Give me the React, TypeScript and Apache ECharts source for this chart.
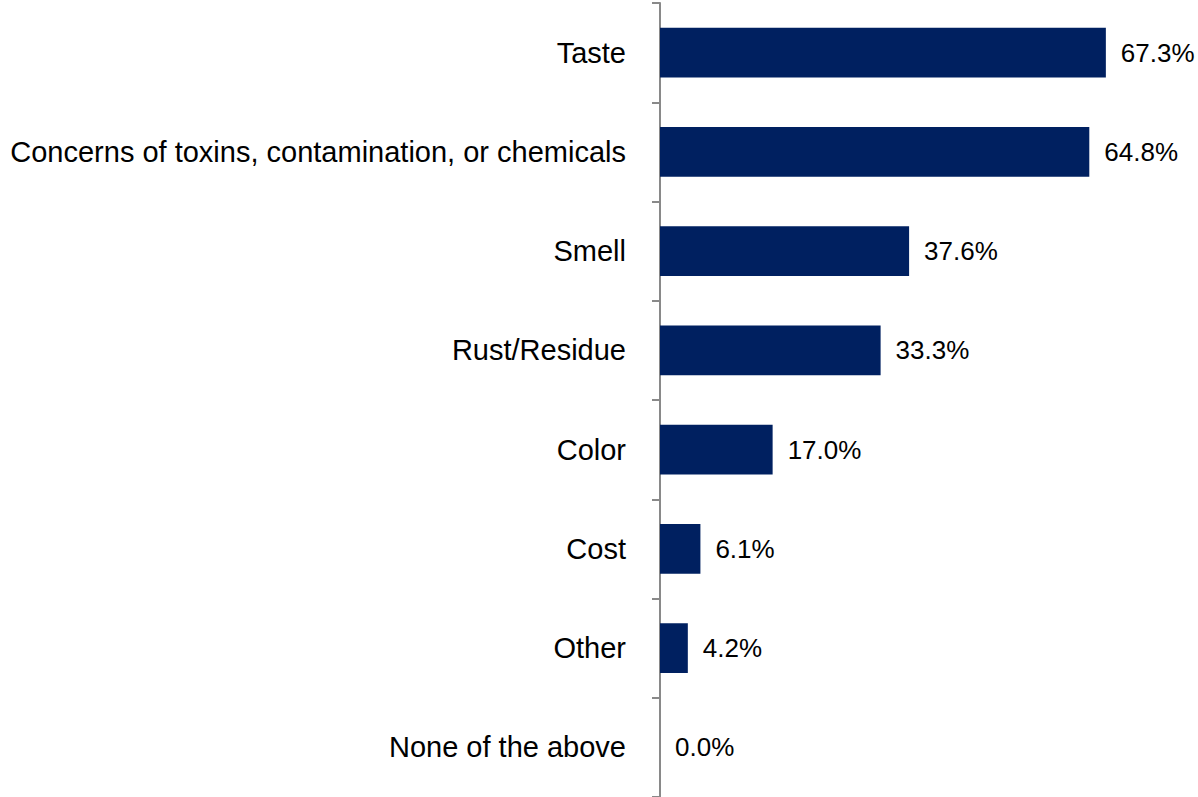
import React, { useEffect, useRef } from "react";
import * as echarts from "echarts";

const categories = [
  "Taste",
  "Concerns of toxins, contamination, or chemicals",
  "Smell",
  "Rust/Residue",
  "Color",
  "Cost",
  "Other",
  "None of the above",
];
const values = [67.3, 64.8, 37.6, 33.3, 17.0, 6.1, 4.2, 0.0];

export default function App() {
  const ref = useRef<HTMLDivElement>(null);
  useEffect(() => {
    document.body.style.margin = "0";
    const chart = echarts.init(ref.current!, null, { renderer: "svg" });
    chart.setOption({
      animation: false,
      grid: { left: 660, top: 3, bottom: 0, right: 8, containLabel: false },
      xAxis: {
        type: "value",
        min: 0,
        max: 80,
        show: false,
      },
      yAxis: {
        type: "category",
        data: categories,
        inverse: true,
        axisLine: { show: true, lineStyle: { color: "#898989", width: 2 } },
        axisTick: { show: true, length: 8, lineStyle: { color: "#898989", width: 2 } },
        axisLabel: {
          margin: 34,
          fontFamily: "Liberation Sans, Arial, sans-serif",
          fontSize: 29,
          color: "#000",
        },
        splitLine: { show: false },
      },
      series: [
        {
          type: "bar",
          data: values,
          barWidth: "50%",
          itemStyle: { color: "#002060" },
          label: {
            show: true,
            position: "right",
            distance: 15,
            formatter: (p: any) => p.value.toFixed(1) + "%",
            fontFamily: "Liberation Sans, Arial, sans-serif",
            fontSize: 26,
            color: "#000",
          },
        },
      ],
    });
    return () => chart.dispose();
  }, []);
  return <div ref={ref} style={{ width: 1198, height: 797 }} />;
}
